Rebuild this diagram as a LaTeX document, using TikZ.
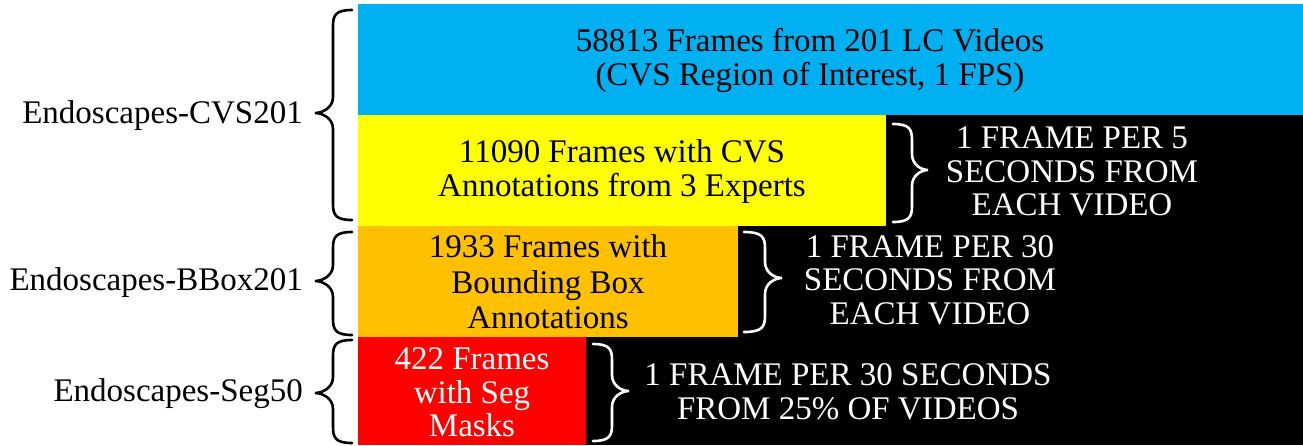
\documentclass[tikz,border=0pt]{standalone}
\usepackage{fontspec}
\setmainfont{Liberation Serif}
\definecolor{cvsblue}{HTML}{00B0F0}
\definecolor{cvsyellow}{HTML}{FFFF00}
\definecolor{bboxorange}{HTML}{FFC000}
\definecolor{segred}{HTML}{FF0000}
% #1 colour, #2 end x, #3 stem x, #4 tip x, #5 top y, #6 tip y, #7 bottom y
\newcommand\drawbrc[7]{%
  \draw[#1, line width=2.6pt, line cap=round]
    (#2,#5) .. controls ({#3+0.15*(#2-#3)},#5) and (#3,{#5+5}) .. (#3,{#5+16})
    -- (#3,{#6-16}) .. controls (#3,{#6-5}) and ({#4+0.4*(#3-#4)},#6) .. (#4,#6)
    .. controls ({#4+0.4*(#3-#4)},#6) and (#3,{#6+5}) .. (#3,{#6+16})
    -- (#3,{#7-16}) .. controls (#3,{#7-5}) and ({#3+0.15*(#2-#3)},#7) .. (#2,#7);}
\begin{document}
\begin{tikzpicture}[x=1pt,y=-1pt,
  txt/.style={font=\fontsize{33}{33.5}\selectfont, align=center, inner sep=0pt},
  lbl/.style={font=\fontsize{33}{33.5}\selectfont, inner sep=0pt, anchor=base east}]
\useasboundingbox (0,0) rectangle (1303,445);
% backgrounds
\fill[black] (358,115) rectangle (1303,445);
\fill[cvsblue] (358,4) rectangle (1303,115);
\fill[cvsyellow] (358,115) rectangle (886,226);
\fill[bboxorange] (358,226) rectangle (738,337);
\fill[segred] (358,337) rectangle (586,445);
% box texts
\node[txt] (all) at (810,60.5) {58813 Frames from 201 LC Videos\\(CVS Region of Interest, 1 FPS)};
\node[txt] (cvs) at (622,171.5) {11090 Frames with CVS\\Annotations from 3 Experts};
\node[txt, font=\fontsize{33}{35.5}\selectfont] (bbox) at (548,282) {1933 Frames with\\Bounding Box\\Annotations};
\node[txt, text=white] (seg) at (472,392.5) {422 Frames\\with Seg\\Masks};
% sampling texts
\node[txt, text=white] (cvsrate) at (1072,171.5) {1 FRAME PER 5\\SECONDS FROM\\EACH VIDEO};
\node[txt, text=white] (bboxrate) at (930,280) {1 FRAME PER 30\\SECONDS FROM\\EACH VIDEO};
\node[txt, text=white] (segrate) at (848,392) {1 FRAME PER 30 SECONDS\\FROM 25\% OF VIDEOS};
% dataset labels
\node[lbl] (lcvs) at (303,123) {Endoscapes-CVS201};
\node[lbl] (lbbox) at (303,290) {Endoscapes-BBox201};
\node[lbl] (lseg) at (303,401) {Endoscapes-Seg50};
% left braces
\drawbrc{black}{352}{333}{315}{10}{113}{220}
\drawbrc{black}{352}{333}{315}{232}{281}{335}
\drawbrc{black}{352}{333}{315}{340}{393}{443}
% right braces
\drawbrc{white}{893}{912}{928}{124}{170}{222}
\drawbrc{white}{744}{765}{782}{232}{278}{332}
\drawbrc{white}{593}{612}{629}{344}{391}{441}
\end{tikzpicture}
\end{document}
